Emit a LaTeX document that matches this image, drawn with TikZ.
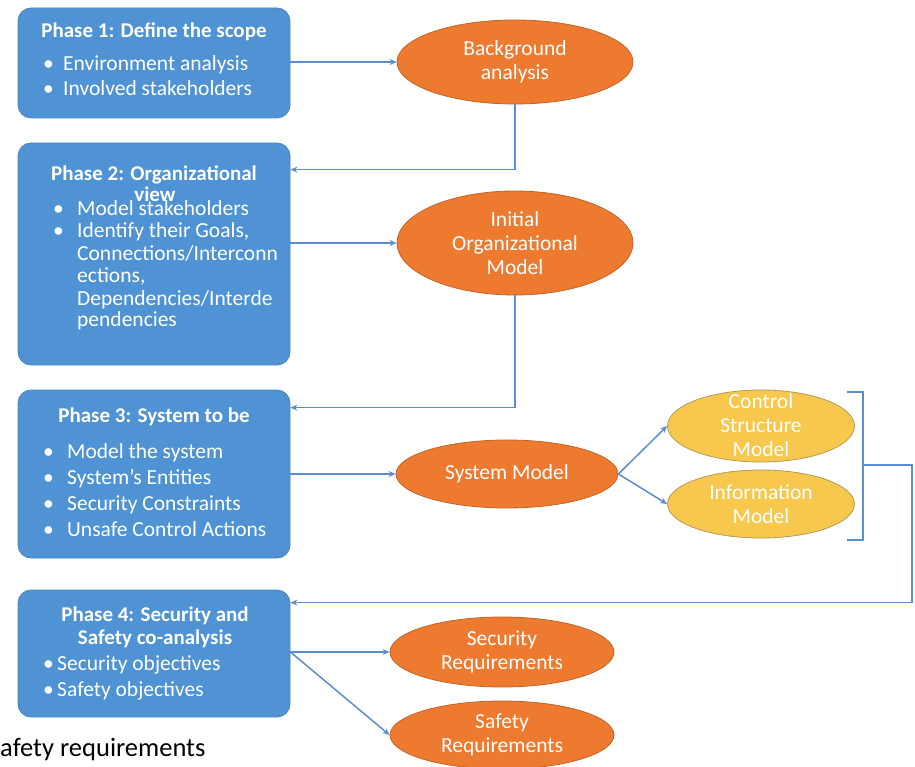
\documentclass[tikz,border=0pt]{standalone}
\usepackage{fontspec}
\setmainfont{Carlito}
\usetikzlibrary{shapes.geometric,arrows.meta,calc}

\definecolor{boxblue}{HTML}{4F93D5}
\definecolor{boxedge}{HTML}{4A86C0}
\definecolor{ovalorange}{HTML}{EE7A30}
\definecolor{ovaledge}{HTML}{C0652A}
\definecolor{ovalyellow}{HTML}{F8C84E}
\definecolor{yellowedge}{HTML}{B59A55}
\definecolor{linkblue}{HTML}{5B8ED0}

% bullet mark followed by a fixed indent
\newcommand\bulmark[1]{\makebox[#1][l]{•}}

\tikzset{
  phase/.style={draw=boxedge, fill=boxblue, line width=0.8pt, rounded corners=13pt,
    minimum width=272pt, inner sep=0pt},
  oval/.style={ellipse, draw=ovaledge, fill=ovalorange, line width=0.8pt, inner sep=0pt},
  yoval/.style={ellipse, draw=yellowedge, fill=ovalyellow, line width=0.8pt, inner sep=0pt},
  wtxt/.style={text=white, inner sep=0pt, text height=15pt, text depth=4.5pt,
    font=\fontsize{21.5}{25}\selectfont},
  ttl/.style={wtxt, font=\bfseries\fontsize{21}{25}\selectfont},
  otxt/.style={text=white, inner sep=0pt, align=center, font=\fontsize{21.5}{24}\selectfont},
  link/.style={draw=linkblue, line width=1.5pt, -{Stealth[length=7pt,width=6pt]}},
  plain/.style={draw=linkblue, line width=1.5pt},
}

\begin{document}
\begin{tikzpicture}[x=1pt,y=-1pt]
\useasboundingbox (0,0) rectangle (915,767);
\fill[white] (0,0) rectangle (915,767);

% ---- phase boxes ----
\node[phase, minimum height=110pt] (p1) at (154,63) {};
\node[phase, minimum height=222pt] (p2) at (154,254) {};
\node[phase, minimum height=168pt] (p3) at (154,474) {};
\node[phase, minimum height=127pt] (p4) at (154,653.5) {};

% Phase 1
\node[ttl] (p1h) at (154,32) {Phase 1: Define the scope};
\node[wtxt, anchor=west] (p1a) at (43,65) {\bulmark{20pt}Environment analysis};
\node[wtxt, anchor=west] (p1b) at (43,90) {\bulmark{20pt}Involved stakeholders};

% Phase 2
\node[ttl] (p2h) at (154,175) {Phase 2: Organizational};
\node[wtxt, anchor=west] (p2a) at (53,210) {\bulmark{24pt}Model stakeholders};
\node[wtxt, anchor=west] (p2b) at (53,232) {\bulmark{24pt}Identify their Goals,};
\node[wtxt, anchor=west] (p2c) at (77,255) {Connections/Interconn};
\node[wtxt, anchor=west] (p2d) at (77,277) {ections,};
\node[wtxt, anchor=west] (p2e) at (77,300) {Dependencies/Interde};
\node[wtxt, anchor=west] (p2f) at (77,321) {pendencies};
\node[ttl] (p2v) at (155,196) {view};

% Phase 3
\node[ttl] (p3h) at (154,417) {Phase 3: System to be};
\node[wtxt, anchor=west] (p3a) at (43,453) {\bulmark{24pt}Model the system};
\node[wtxt, anchor=west] (p3b) at (43,479) {\bulmark{24pt}System's Entities};
\node[wtxt, anchor=west] (p3c) at (43,505) {\bulmark{24pt}Security Constraints};
\node[wtxt, anchor=west] (p3d) at (43,531) {\bulmark{24pt}Unsafe Control Actions};

% Phase 4
\node[ttl] (p4h) at (155,616) {Phase 4: Security and};
\node[ttl] (p4i) at (155,639) {Safety co-analysis};
\node[wtxt, anchor=west] (p4a) at (43,665) {\bulmark{14pt}Security objectives};
\node[wtxt, anchor=west] (p4b) at (43,691) {\bulmark{14pt}Safety objectives};

% ---- result ovals ----
\node[oval, minimum width=236pt, minimum height=84pt] (bg) at (515,62) {};
\node[otxt] (bgt) at (bg) {Background\\analysis};

\node[oval, minimum width=236pt, minimum height=104pt] (iom) at (515,243) {};
\node[otxt] (iomt) at (iom) {Initial\\Organizational\\Model};

\node[oval, minimum width=222pt, minimum height=68pt] (sm) at (507,474) {};
\node[otxt] (smt) at (sm) {System Model};

\node[yoval, minimum width=187pt, minimum height=72pt] (csm) at (761,426) {};
\node[otxt] (csmt) at (761,425) {Control\\Structure\\Model};

\node[yoval, minimum width=187pt, minimum height=68pt] (im) at (761,504) {};
\node[otxt] (imt) at (im) {Information\\Model};

\node[oval, minimum width=224pt, minimum height=70pt] (sr) at (502,652) {};
\node[otxt] (srt) at (sr) {Security\\Requirements};

\node[oval, minimum width=224pt, minimum height=68pt] (sf) at (502,735) {};
\node[otxt] (sft) at (sf) {Safety\\Requirements};

% ---- connectors ----
\draw[link] (p1.east |- bg.west) -- (bg.west);
\draw[link] (bg.south) |- ($(p2.north east)+(0,27)$);
\draw[link] (p2.east |- iom.west) -- (iom.west);
\draw[link] (iom.south) |- ($(p3.north east)+(0,18)$);
\draw[link] (p3.east |- sm.west) -- (sm.west);
\draw[link] (sm.east) -- (csm.west);
\draw[link] (sm.east) -- (im.west);

% bracket grouping the two models, and the feedback line to phase 4
\coordinate (brtop) at (847,392);
\coordinate (brbot) at (847,540);
\coordinate (brmid) at (863,465);
\draw[plain] (brtop) -- (brtop -| brmid) -- (brbot -| brmid) -- (brbot);
\draw[link] (brmid) -- ++(49,0) |- ($(p4.north east)+(0,13)$);

\draw[link] (p4.east |- sr.west) -- (sr.west);
\draw[link] (p4.east |- sr.west) -- (sf.west);

% ---- cut caption at the bottom ----
\node[anchor=base west, inner sep=0pt, font=\fontsize{26.5}{30}\selectfont] (cap) at (0,756) {afety requirements};
\end{tikzpicture}
\end{document}
